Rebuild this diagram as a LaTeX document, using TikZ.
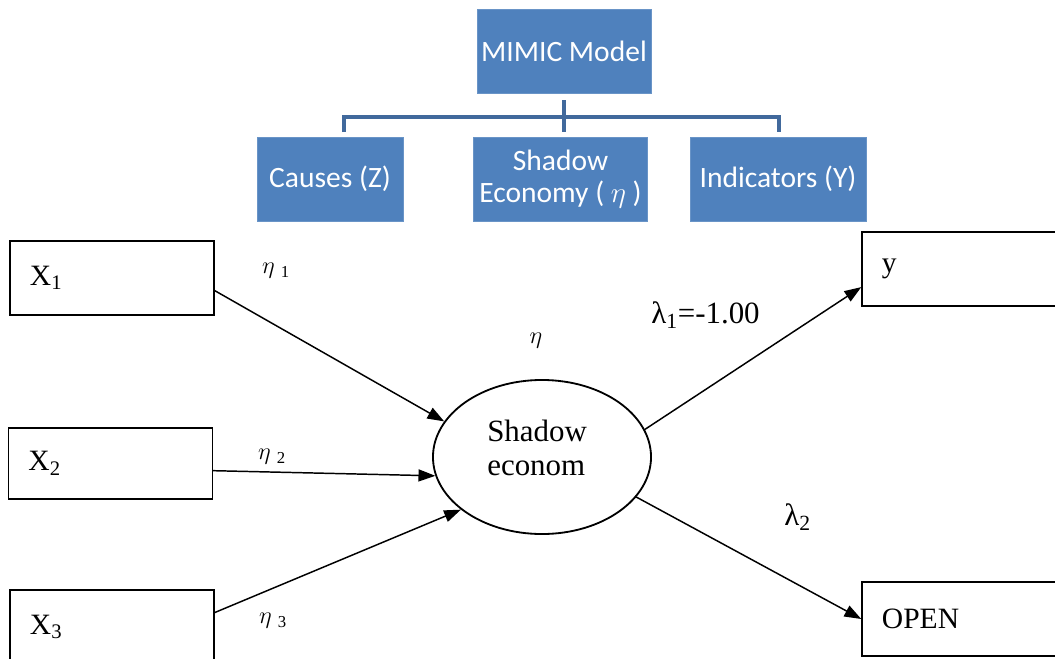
\documentclass[tikz,border=0pt]{standalone}
\usepackage{fontspec}
\setmainfont{Liberation Serif}
\newfontfamily\calibrifont{Carlito}
\usetikzlibrary{arrows.meta,shapes.geometric}
\definecolor{boxblue}{HTML}{4F81BD}
\definecolor{treeblue}{HTML}{41699C}

\begin{document}
\begin{tikzpicture}[x=0.025cm,y=-0.025cm,
    bluebox/.style={fill=boxblue, draw=boxblue!85!white, text=white, align=center,
      font=\calibrifont\fontsize{21}{23}\selectfont, minimum height=2.1cm, inner sep=1pt},
    varbox/.style={draw, line width=1pt, minimum width=5.1cm, minimum height=1.85cm,
      text width=4.1cm, inner xsep=0.5cm, align=left, font=\fontsize{21}{24}\selectfont},
    coef/.style={font=\fontsize{22}{24}\selectfont, inner sep=0pt},
    etalab/.style={font=\fontsize{17}{19}\selectfont, inner sep=0pt},
    arr/.style={-{Triangle[length=0.42cm, width=0.3cm]}, line width=1.05pt},
    tree/.style={draw=treeblue, line width=2.8pt}]
  \useasboundingbox (0,0) rectangle (1055,659);
  \clip (0,0) rectangle (1055,659);
  % Top tree
  \node[bluebox, minimum width=4.35cm] (mimic) at (564,51.5) {MIMIC Model};
  \node[bluebox, minimum width=3.65cm] (causes) at (330,179) {Causes (Z)};
  \node[bluebox, minimum width=4.35cm] (shadowbox) at (560.5,179) {Shadow\\Economy ( $\eta$ )};
  \node[bluebox, minimum width=4.4cm] (indicators) at (778,179) {Indicators (Y)};
  \draw[tree] (564,100) -- (564,132);
  \draw[tree] (344,132) -- (344,117) -- (779,117) -- (779,132);
  % Boxes
  \node[varbox] (xone) at (112,278) {X\textsubscript{1}};
  \node[varbox, minimum height=1.78cm] (xtwo) at (110.5,463.5) {X\textsubscript{2}};
  \node[varbox] (xthree) at (112,627) {X\textsubscript{3}};
  \node[varbox] (ybox) at (964,269) {y};
  \node[varbox] (open) at (964,619) {OPEN};
  % Latent variable
  \node[draw, ellipse, line width=1.3pt, minimum width=5.45cm, minimum height=3.85cm] (econ) at (542,457) {};
  \node[align=left, font=\fontsize{22}{24}\selectfont, anchor=north west, inner sep=0pt]
    (econtext) at (487,420) {Shadow\\econom};
  % Arrows
  \draw[arr] (xone.-7) -- (econ.160);
  \draw[arr] (xtwo.-4) -- (econ.190);
  \draw[arr] (xthree.8) -- (econ.213);
  \draw[arr] (econ.15) -- (ybox.190);
  \draw[arr] (econ.-23) -- (open.west);
  % Labels
  \node[etalab] (eone) at (276,271) {$\eta$ \textsubscript{1}};
  \node[etalab] (etwo) at (272,457) {$\eta$ \textsubscript{2}};
  \node[etalab] (ethree) at (273,621) {$\eta$ \textsubscript{3}};
  \node[etalab] (eta) at (536,341) {$\eta$};
  \node[coef, anchor=west] (lone) at (651,315) {λ\textsubscript{1}=-1.00};
  \node[coef, anchor=west] (ltwo) at (784,517) {λ\textsubscript{2}};
\end{tikzpicture}
\end{document}
